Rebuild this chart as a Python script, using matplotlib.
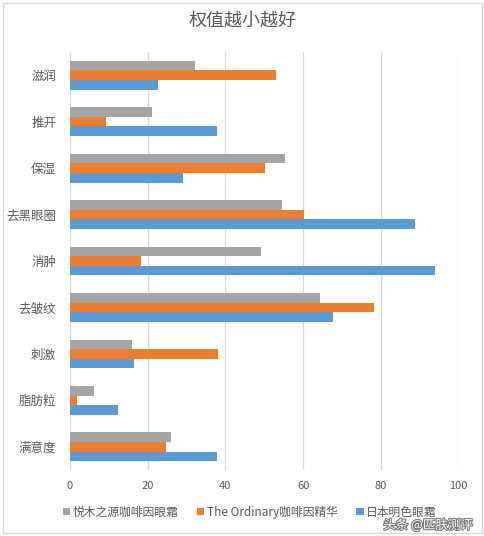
import matplotlib.pyplot as plt
import matplotlib.patches as patches
import matplotlib.patheffects as pe
import numpy as np

plt.rcParams['font.family'] = ['Noto Sans CJK SC', 'DejaVu Sans']

categories = ['滋润', '推开', '保湿', '去黑眼圈', '消肿', '去皱纹', '刺激', '脂肪粒', '满意度']
series_names = ['悦木之源咖啡因眼霜', 'The Ordinary咖啡因精华', '日本明色眼霜']
yuemu = [32.2, 21.1, 55.4, 54.6, 49.2, 64.4, 16.0, 6.2, 26.0]
ordinary = [53.0, 9.3, 50.2, 60.3, 18.3, 78.3, 38.1, 1.8, 24.7]
meishoku = [22.6, 37.9, 29.1, 88.8, 94.0, 67.7, 16.5, 12.4, 37.9]
x_ticks = [0, 20, 40, 60, 80, 100]

colors = ['#A5A5A5', '#ED7D31', '#5B9BD5']
text_color = '#595959'

fig = plt.figure(figsize=(4.85, 5.36), dpi=100)
ax = fig.add_axes([0.1443, 0.123, 0.801, 0.780])

y = np.arange(len(categories))
bar_h = 0.207
for k, (vals, name) in enumerate(zip([yuemu, ordinary, meishoku], series_names)):
    ax.barh(y + (k - 1) * bar_h, vals, height=bar_h, color=colors[k], label=name, zorder=3)

ax.set_xlim(0, 100)
ax.set_ylim(len(categories) - 0.5, -0.5)
ax.set_xticks(x_ticks)
ax.set_yticks(y)
ax.set_yticklabels(categories, fontsize=9, color=text_color)
ax.tick_params(axis='x', labelsize=8, colors=text_color, length=0, pad=8)
ax.tick_params(axis='y', length=0, pad=10)
ax.grid(axis='x', color='#D9D9D9', linewidth=0.9, zorder=0)
for s in ax.spines.values():
    s.set_visible(False)

fig.text(0.5, 1 - 22 / 536, '权值越小越好', ha='center', va='center', fontsize=13, color=text_color)

fig.legend(loc='center', bbox_to_anchor=(0.515, 1 - 512 / 536), ncol=3, frameon=False,
           fontsize=8.5, handlelength=0.6, handleheight=0.6, handletextpad=0.2,
           columnspacing=1.6, labelcolor=text_color)

# outer chart border
fig.patches.append(patches.Rectangle((0.006, 0.006), 0.988, 0.988, transform=fig.transFigure,
                                     fill=False, edgecolor='#D9D9D9', linewidth=1))

# watermark
fig.text(0.975, 1 - 525 / 536, '头条 @匹肤测评', ha='right', va='center', fontsize=9, color='white',
         path_effects=[pe.withStroke(linewidth=1.5, foreground='#777777')])

fig.savefig('out.png', dpi=100)
